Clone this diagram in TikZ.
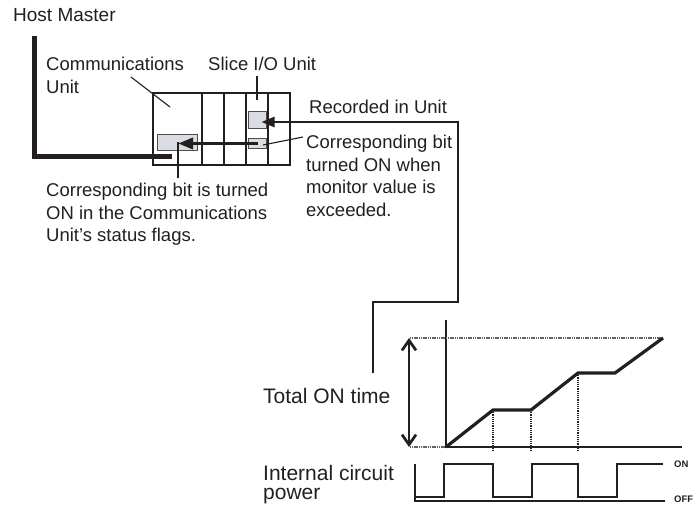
\documentclass[tikz,border=0pt]{standalone}
\usepackage{fontspec}
\setmainfont{Liberation Sans}
\usetikzlibrary{arrows.meta}
\definecolor{boxgray}{RGB}{218,220,226}
\definecolor{ink}{RGB}{35,31,32}
\begin{document}
\begin{tikzpicture}[x=1pt,y=-1pt, color=ink,
  lbl/.style={inner sep=0pt, anchor=north west, align=left,
    font=\fontsize{18.5}{22.5}\selectfont},
  glbl/.style={inner sep=0pt, anchor=north west, align=left,
    font=\fontsize{21}{19.5}\selectfont},
  smlbl/.style={inner sep=0pt, anchor=west,
    font=\bfseries\fontsize{9.5}{10}\selectfont},
  leader/.style={line width=1.1pt},
  rackline/.style={line width=1.7pt},
  graybox/.style={draw=ink!80, line width=0.9pt, fill=boxgray, inner sep=0pt},
  bitarrow/.style={line width=3.4pt, -{Triangle[length=15pt,width=11pt]}},
  recline/.style={line width=2.6pt, -{Triangle[length=13pt,width=10pt]}},
  hostline/.style={line width=5pt, line cap=butt},
  dotline/.style={line width=1.2pt, draw=ink!70, dash pattern=on 1.2pt off 0.6pt},
  vdot/.style={line width=1.7pt, dash pattern=on 1.2pt off 1pt},
  curve/.style={line width=3.2pt},
  pulse/.style={line width=1.6pt},
  dblarrow/.style={line width=2.7pt, {Straight Barb[length=10pt,width=14pt]}-{Straight Barb[length=10pt,width=14pt]}}
]
\useasboundingbox (0,0) rectangle (694,506);

% ---- texts
\node[lbl, font=\fontsize{19}{22}\selectfont] (host) at (13,8.5) {Host Master};
\node[lbl] (commlbl) at (46,57) {Communications\\Unit};
\node[lbl] (slicelbl) at (208,57) {Slice I/O Unit};
\node[lbl] (reclbl) at (309,100) {Recorded in Unit};
\node[lbl] (corrlbl) at (306,135) {Corresponding bit\\turned ON when\\monitor value is\\exceeded.};
\node[lbl] (statlbl) at (46,183) {Corresponding bit is turned\\ON in the Communications\\Unit's status flags.};
\node[glbl] (totlbl) at (263,388) {Total ON time};
\node[glbl] (pwrlbl) at (263,465) {Internal circuit\\power};
\node[smlbl] (onlbl) at (674,464) {ON};
\node[smlbl] (offlbl) at (674,499) {OFF};

% ---- host line
\coordinate (h1) at (34.5,36);
\coordinate (h2) at (172,156);
\draw[hostline] (h1) |- (h2);

% ---- rack
\node[draw, rackline, minimum width=137pt, minimum height=72pt, inner sep=0pt] (rack) at (221.5,129) {};
\foreach \xx in {202,224,246,268} \draw[rackline] (\xx,93) -- (\xx,165);

\node[graybox, minimum width=40.4pt, minimum height=16.7pt] (combox) at (177.5,142.4) {};
\node[graybox, minimum width=18.4pt, minimum height=17.3pt] (recbox) at (257.5,119.7) {};
\node[graybox, minimum width=18.4pt, minimum height=10pt] (bitbox) at (257.5,143.5) {};

% ---- leaders
\coordinate (cl1) at (131,77);
\coordinate (cl2) at (170,107);
\draw[leader] (cl1) -- (cl2);
\coordinate (sl1) at (257,76);
\coordinate (sl2) at (257,100);
\draw[leader] (sl1) -- (sl2);
\coordinate (cb1) at (303,137);
\coordinate (cb2) at (263,145);
\draw[leader] (cb1) -- (cb2);
\coordinate (st2) at (178,178);
\draw[leader] (combox.center -| st2) -- (st2);

% ---- arrows
\coordinate (ca) at (178,144);
\draw[bitarrow] (bitbox.center) -- (bitbox.center -| ca);
\coordinate (r4) at (373,373);
\coordinate (r3) at (373,302);
\coordinate (r2) at (458,302);
\coordinate (r1) at (458,122);
\coordinate (rt) at (261.5,122);
\draw[recline] (r4) -- (r3) -- (r2) -- (r1) -- (rt);

% ---- graph
\coordinate (o) at (446,447);
\coordinate (yt) at (446,320);
\coordinate (xe) at (682,447);
\draw[leader] (yt) -- (o) -- (xe);
\coordinate (dl) at (410,447);
\draw[dotline] (dl) -- (o);
\coordinate (tl) at (410,338);
\coordinate (tr) at (663,338);
\draw[dotline] (tl) -- (tr);
\coordinate (da1) at (409,338);
\coordinate (da2) at (409,447);
\draw[dblarrow] (da1) -- (da2);

\coordinate (p1) at (493,410);
\coordinate (p2) at (531,410);
\coordinate (p3) at (578,373);
\coordinate (p4) at (615,373);
\draw[curve] (o) -- (p1) -- (p2) -- (p3) -- (p4) -- (tr);
\draw[vdot] (p1) -- ++(0,40);
\draw[vdot] (p2) -- ++(0,40);
\draw[vdot] (p3) -- ++(0,78);

% ---- pulse
\coordinate (q0) at (415,464);
\coordinate (q1) at (415,501);
\coordinate (q2) at (665,501);
\draw[pulse] (q0) -- (q1) -- (q2);
\draw[pulse] (415,497) -- (444,497) -- (444,464) -- (493,464) -- (493,497) -- (532,497) -- (532,464) -- (578,464) -- (578,497) -- (617,497) -- (617,464) -- (663,464);
\end{tikzpicture}
\end{document}
